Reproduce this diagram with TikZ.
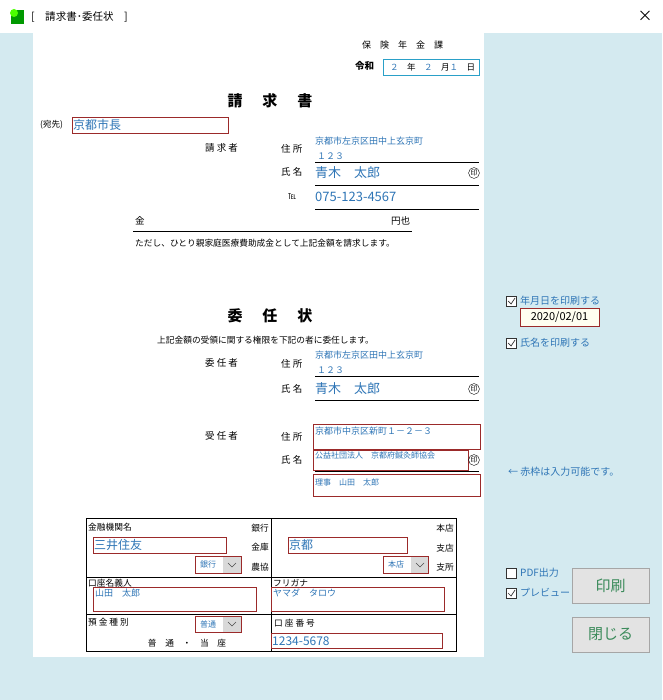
\documentclass[tikz,border=0pt]{standalone}
\usepackage{fontspec}
\setmainfont{Noto Sans CJK JP}
\begin{document}
\begin{tikzpicture}[x=1pt,y=-1pt,
  lbl/.style={inner sep=0,anchor=west,font=\fontsize{9.5}{10}\selectfont},
  blu/.style={inner sep=0,anchor=west,text=bluet,font=\fontsize{9}{10}\selectfont},
  bigb/.style={inner sep=0,anchor=west,text=bluet,font=\fontsize{13}{14}\selectfont},
  redbox/.style={draw=redb,line width=0.8pt},
  uline/.style={line width=0.9pt},
  ttl/.style={inner sep=0,font=\fontsize{15}{16}\selectfont\bfseries},
  inn/.style={draw,circle,inner sep=0.5pt,font=\fontsize{7}{7}\selectfont},
  dd/.style={draw=redb,line width=0.8pt},
  chk/.style={draw=black!80,fill=white,line width=0.6pt},
  btn/.style={draw=gray!70,fill=gray!22,text=greenb,font=\fontsize{15}{16}\selectfont}]
\definecolor{bluet}{HTML}{2E75B6}
\definecolor{redb}{HTML}{9B2A2A}
\definecolor{bgc}{HTML}{D4EAF0}
\definecolor{greenb}{HTML}{3A8A5A}
\definecolor{cyanb}{HTML}{2AA0C8}
\useasboundingbox (0,0) rectangle (662,700);
% window
\fill[white] (0,0) rectangle (662,33);
\fill[bgc] (0,33) rectangle (662,700);
\fill[white] (33,33) rectangle (484,657);
\fill[green!60!black] (11,10) rectangle (24,24);
\fill[green!70!yellow] (14,13) circle (4);
\node[inner sep=0,anchor=west,font=\fontsize{10.5}{11}\selectfont] (wt) at (31,17) {[　請求書･委任状　]};
\node[inner sep=0,font=\fontsize{15}{15}\selectfont] (cl) at (645,16) {×};
% header
\node[lbl,font=\fontsize{9}{10}\selectfont] (ka) at (362,45) {保　険　年　金　課};
\node[lbl,font=\fontsize{9.5}{10}\selectfont\bfseries] (rw) at (355,66) {令和};
\draw[cyanb,line width=0.8pt] (383,59) rectangle (479,75);
\node[lbl,font=\fontsize{8.5}{9}\selectfont] (dt) at (390,67) {\textcolor{bluet}{２}　年　\textcolor{bluet}{２}　月\textcolor{bluet}{１}　日};
\node[ttl] (t1) at (270,101) {請\hspace{20pt}求\hspace{20pt}書};
\node[lbl,font=\fontsize{8.5}{9}\selectfont] (at) at (40,125) {(宛先)};
\draw[redbox] (72,117) rectangle (228,133);
\node[bigb,font=\fontsize{12}{13}\selectfont] (kc) at (73,125) {京都市長};
\node[lbl] (sk) at (205,148) {請 求 者};
\node[lbl] (j1) at (281,149) {住 所};
\node[blu] (a1) at (315,141) {京都市左京区田中上玄京町};
\node[blu] (a2) at (317,156) {１２３};
\draw[uline] (315,162) -- (479,162);
\node[lbl] (s1) at (281,172) {氏 名};
\node[bigb] (n1) at (315,173) {青木　太郎};
\node[inn] (i1) at (474,173) {印};
\draw[uline] (315,185) -- (479,185);
\node[lbl,font=\fontsize{8}{9}\selectfont] (tel) at (288,197) {℡};
\node[bigb] (tn) at (315,197) {075-123-4567};
\draw[uline] (315,209) -- (479,209);
\node[lbl] (kn) at (135,221) {金};
\node[lbl] (en) at (391,221) {円也};
\draw[uline] (133,231) -- (412,231);
\node[lbl,font=\fontsize{8.7}{9}\selectfont] (td) at (135,243) {ただし、ひとり親家庭医療費助成金として上記金額を請求します。};
% inin
\node[ttl] (t2) at (270,316) {委\hspace{20pt}任\hspace{20pt}状};
\node[lbl,font=\fontsize{8.7}{9}\selectfont] (jk) at (157,340) {上記金額の受領に関する権限を下記の者に委任します。};
\node[lbl] (im) at (205,363) {委 任 者};
\node[lbl] (j2) at (281,364) {住 所};
\node[blu] (a3) at (315,355) {京都市左京区田中上玄京町};
\node[blu] (a4) at (317,370) {１２３};
\draw[uline] (315,376) -- (479,376);
\node[lbl] (s2) at (281,389) {氏 名};
\node[bigb] (n2) at (315,389) {青木　太郎};
\node[inn] (i2) at (474,389) {印};
\draw[uline] (315,400) -- (479,400);
\node[lbl] (jn) at (205,436) {受 任 者};
\node[lbl] (j3) at (281,437) {住 所};
\draw[redbox] (313,424) rectangle (480,449);
\node[blu] (a5) at (315,431) {京都市中京区新町１－２－３};
\node[lbl] (s3) at (281,460) {氏 名};
\draw[uline] (315,471) -- (479,471);
\draw[redbox] (313,450) rectangle (468,470);
\node[blu,font=\fontsize{8}{9}\selectfont] (a6) at (315,456) {公益社団法人　京都府鍼灸師協会};
\node[inn] (i3) at (474,460) {印};
\draw[redbox] (313,474) rectangle (480,496);
\node[blu,font=\fontsize{8}{9}\selectfont] (a7) at (315,482) {理事　山田　太郎};
% bank table
\draw[line width=0.9pt] (86,518) rectangle (456,651);
\draw[line width=0.9pt] (271,518) -- (271,651);
\draw[line width=0.9pt] (86,577) -- (456,577);
\draw[line width=0.9pt] (86,614) -- (456,614);
\node[lbl,font=\fontsize{8.7}{9}\selectfont] (km) at (88,527) {金融機関名};
\node[lbl,font=\fontsize{8.7}{9}\selectfont,anchor=east] (b1) at (269,528) {銀行};
\node[lbl,font=\fontsize{8.7}{9}\selectfont,anchor=east] (b2) at (269,547) {金庫};
\node[lbl,font=\fontsize{8.7}{9}\selectfont,anchor=east] (b3) at (269,567) {農協};
\draw[redbox] (93,537) rectangle (226,553);
\node[bigb,font=\fontsize{12}{13}\selectfont] (bn) at (94,545) {三井住友};
\fill[gray!30] (223,556) rectangle (241,573);
\draw[dd] (195,556) rectangle (241,573);
\node[blu,font=\fontsize{8}{9}\selectfont] (d1) at (200,564) {銀行};
\draw[gray!60!black,line width=0.6pt] (228,563) -- (232,567) -- (236,563);
\node[lbl,font=\fontsize{8.7}{9}\selectfont,anchor=east] (h1) at (454,528) {本店};
\node[lbl,font=\fontsize{8.7}{9}\selectfont,anchor=east] (h2) at (454,548) {支店};
\node[lbl,font=\fontsize{8.7}{9}\selectfont,anchor=east] (h3) at (454,567) {支所};
\draw[redbox] (288,537) rectangle (407,553);
\node[bigb,font=\fontsize{12}{13}\selectfont] (br) at (289,545) {京都};
\fill[gray!30] (411,556) rectangle (428,573);
\draw[dd] (383,556) rectangle (428,573);
\node[blu,font=\fontsize{8}{9}\selectfont] (d2) at (388,564) {本店};
\draw[gray!60!black,line width=0.6pt] (416,563) -- (420,567) -- (424,563);
\node[lbl,font=\fontsize{8.7}{9}\selectfont] (mg) at (88,583) {口座名義人};
\node[lbl,font=\fontsize{8.7}{9}\selectfont] (fr) at (273,583) {フリガナ};
\draw[redbox] (93,587) rectangle (256,611);
\node[blu] (yt) at (95,593) {山田　太郎};
\draw[redbox] (271,587) rectangle (444,611);
\node[blu] (yk) at (273,593) {ヤマダ　タロウ};
\node[lbl,font=\fontsize{8.7}{9}\selectfont] (ys) at (88,622) {預 金 種 別};
\fill[gray!30] (223,616) rectangle (241,632);
\draw[dd] (195,616) rectangle (241,632);
\node[blu,font=\fontsize{8}{9}\selectfont] (d3) at (200,624) {普通};
\draw[gray!60!black,line width=0.6pt] (228,622) -- (232,626) -- (236,622);
\node[inner sep=0,font=\fontsize{8.7}{9}\selectfont] (ft) at (187,643) {普　通　・　当　座};
\node[lbl,font=\fontsize{8.7}{9}\selectfont] (kb) at (274,623) {口 座 番 号};
\draw[redbox] (271,633) rectangle (442,648);
\node[bigb,font=\fontsize{12}{13}\selectfont] (no) at (272,641) {1234-5678};
% right panel
\draw[chk] (506,296) rectangle (516,306);
\draw[black!80,line width=0.7pt] (508,301) -- (511,304) -- (515,298);
\node[blu,font=\fontsize{10}{11}\selectfont] (c1) at (520,301) {年月日を印刷する};
\draw[redbox,fill=yellow!6] (520,308) rectangle (599,326);
\node[inner sep=0,font=\fontsize{11}{12}\selectfont] (dv) at (559.5,317) {2020/02/01};
\draw[chk] (506,338) rectangle (516,348);
\draw[black!80,line width=0.7pt] (508,343) -- (511,346) -- (515,340);
\node[blu,font=\fontsize{10}{11}\selectfont] (c2) at (520,343) {氏名を印刷する};
\node[blu,font=\fontsize{10}{11}\selectfont] (nt) at (508,472) {← 赤枠は入力可能です。};
\draw[chk] (506,568) rectangle (516,578);
\node[blu,font=\fontsize{10}{11}\selectfont] (c3) at (520,573) {PDF出力};
\draw[chk] (506,588) rectangle (516,598);
\draw[black!80,line width=0.7pt] (508,593) -- (511,596) -- (515,590);
\node[blu,font=\fontsize{10}{11}\selectfont] (c4) at (520,593) {プレビュー};
\node[btn,minimum width=77pt,minimum height=35pt] (pb) at (610.5,585.5) {印刷};
\node[btn,minimum width=77pt,minimum height=35pt] (cb) at (610.5,634.5) {閉じる};
\end{tikzpicture}
\end{document}
